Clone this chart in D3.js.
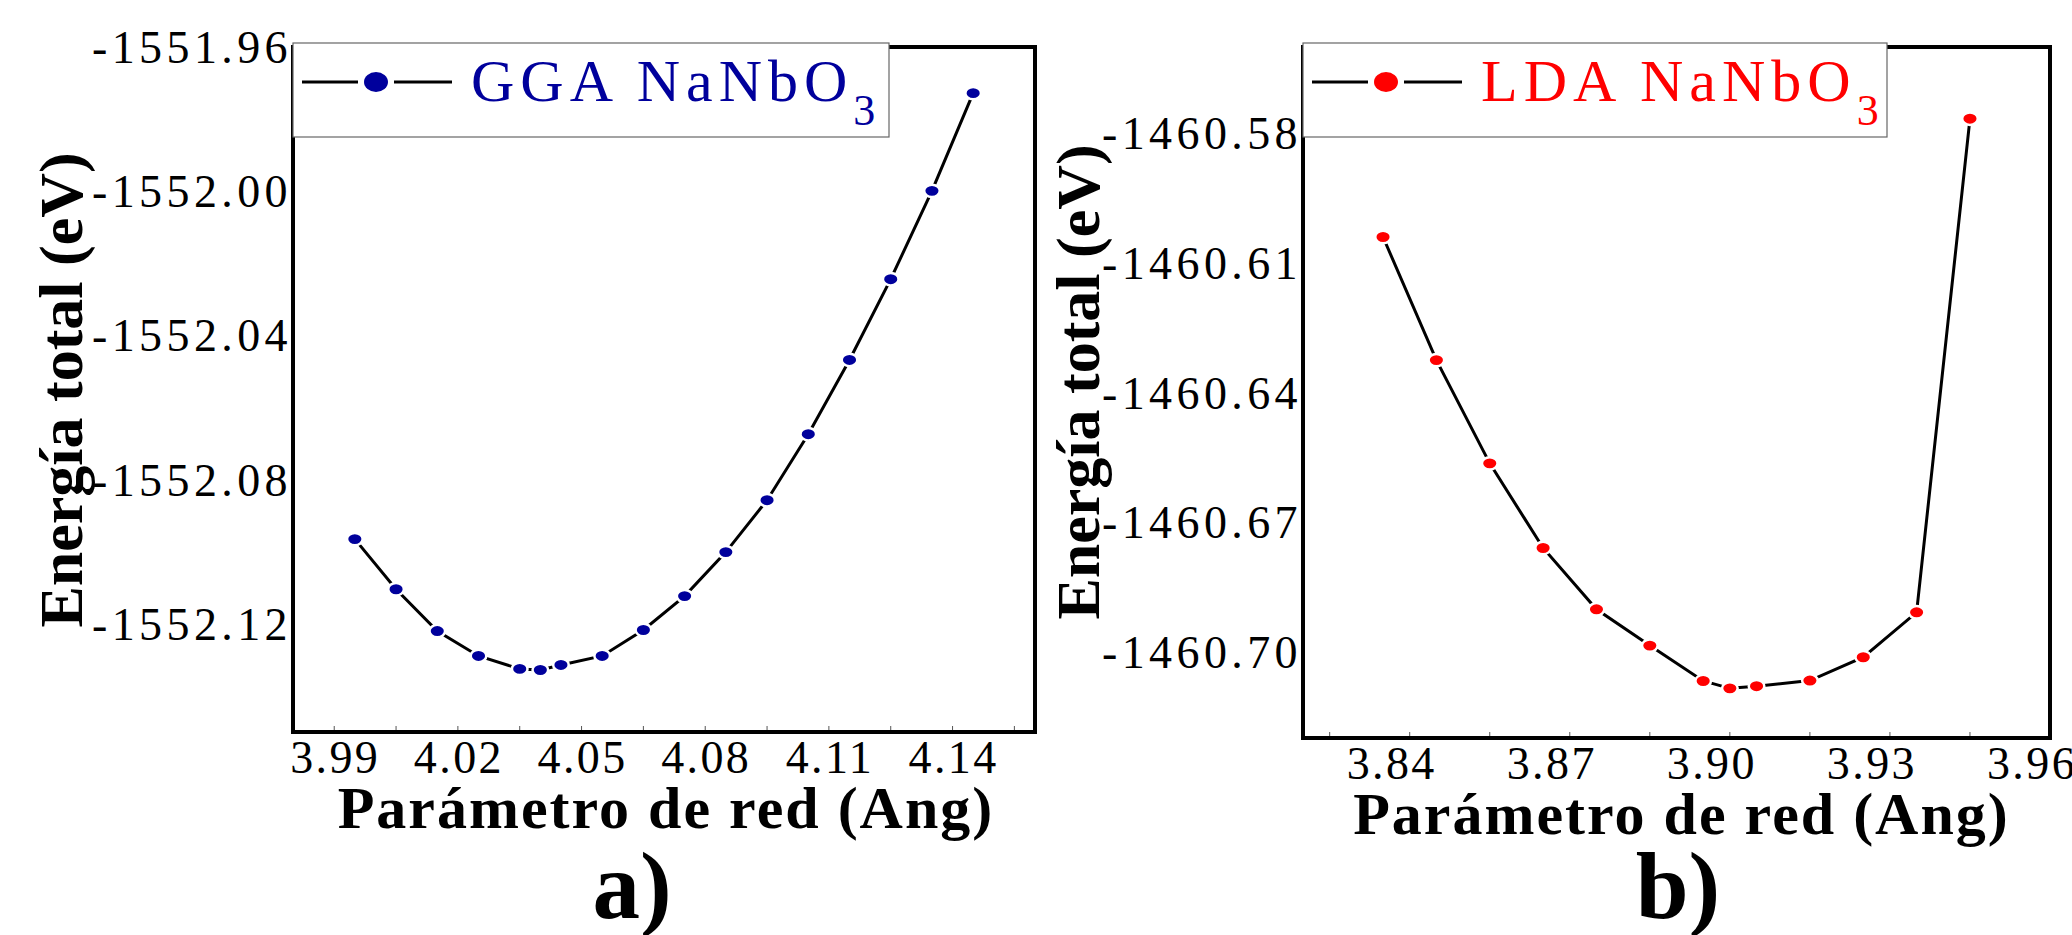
<!DOCTYPE html>
<html>
<head>
<meta charset="utf-8">
<script src="https://cdn.jsdelivr.net/npm/d3@7"></script>
<style>
  body { margin: 0; background: #fff; }
</style>
</head>
<body>
<svg id="chart" width="2072" height="935"></svg>
<script>
// data
var ggaLattice = [3.995, 4.005, 4.015, 4.025, 4.035, 4.040, 4.045, 4.055, 4.065,
                  4.075, 4.085, 4.095, 4.105, 4.115, 4.125, 4.135, 4.145];
var ggaEnergy = [-1552.0965, -1552.1104, -1552.1220, -1552.1289, -1552.1325, -1552.1328,
                 -1552.1314, -1552.1289, -1552.1217, -1552.1123, -1552.1001, -1552.0857,
                 -1552.0674, -1552.0468, -1552.0244, -1551.9999, -1551.9728];

var ldaLattice = [3.835, 3.845, 3.855, 3.865, 3.875, 3.885, 3.895, 3.900, 3.905,
                  3.915, 3.925, 3.935, 3.945];
var ldaEnergy = [-1460.6040, -1460.6325, -1460.6564, -1460.6760, -1460.6902, -1460.6986,
                 -1460.7068, -1460.7085, -1460.7080, -1460.7067, -1460.7013, -1460.6909,
                 -1460.5766];

var ggaXTicks = [3.99, 4.02, 4.05, 4.08, 4.11, 4.14];
var ggaYTicks = [-1551.96, -1552.00, -1552.04, -1552.08, -1552.12];
var ldaXTicks = [3.84, 3.87, 3.90, 3.93, 3.96];
var ldaYTicks = [-1460.58, -1460.61, -1460.64, -1460.67, -1460.70];

var svg = d3.select("#chart")
  .style("font-family", "'Liberation Serif', 'Times New Roman', serif");
svg.append("rect").attr("width", 2072).attr("height", 935).attr("fill", "#fff");

// plain hyphen for the minus sign, as in the original
var fmt = function(d) { return d.toFixed(2); };

function drawPanel(p) {
  var x = d3.scaleLinear().domain(p.xDomain).range([p.left, p.right]);
  var y = d3.scaleLinear().domain(p.yDomain).range([p.bottom, p.top]);
  var g = svg.append("g");

  // minor inner ticks along the bottom, every 0.015
  var minor = d3.range(Math.ceil(p.xDomain[0] / 0.015), Math.floor(p.xDomain[1] / 0.015) + 1)
    .map(function(k) { return k * 0.015; });
  g.selectAll(".minor").data(minor).enter().append("line")
    .attr("x1", d => x(d)).attr("x2", d => x(d))
    .attr("y1", p.bottom).attr("y2", p.bottom - 6)
    .attr("stroke", "#555").attr("stroke-width", 1);

  // data line + markers
  var pts = p.xs.map(function(d, i) { return [d, p.ys[i]]; });
  g.append("path")
    .datum(pts)
    .attr("fill", "none")
    .attr("stroke", "#000")
    .attr("stroke-width", 3)
    .attr("d", d3.line().x(d => x(d[0])).y(d => y(d[1])));
  g.selectAll(".pt").data(pts).enter().append("ellipse")
    .attr("cx", d => x(d[0])).attr("cy", d => y(d[1]))
    .attr("rx", 7.8).attr("ry", 6.2)
    .attr("fill", p.color)
    .attr("stroke", "#fff").attr("stroke-width", 2.5);

  // frame
  g.append("rect")
    .attr("x", p.left).attr("y", p.top)
    .attr("width", p.right - p.left).attr("height", p.bottom - p.top)
    .attr("fill", "none").attr("stroke", "#000").attr("stroke-width", 4);

  // tick labels
  g.selectAll(".xl").data(p.xTicks).enter().append("text")
    .attr("x", d => x(d) + p.xLabelShift + 1).attr("y", p.bottom + 41)
    .attr("text-anchor", "middle")
    .attr("font-size", 46).attr("letter-spacing", 2.4)
    .text(fmt);
  g.selectAll(".yl").data(p.yTicks).enter().append("text")
    .attr("x", p.left - 1).attr("y", d => y(d) + 16)
    .attr("text-anchor", "end")
    .attr("font-size", 46).attr("letter-spacing", 4.4)
    .text(fmt);

  // axis titles
  g.append("text")
    .attr("x", (p.left + p.right) / 2 + p.xTitleShift).attr("y", p.bottom + 96)
    .attr("text-anchor", "middle")
    .attr("font-size", 60).attr("font-weight", "bold").attr("letter-spacing", 2)
    .text("Parámetro de red (Ang)");
  g.append("text")
    .attr("transform", "translate(" + p.yTitleX + "," + p.yTitleY + ") rotate(-90)")
    .attr("text-anchor", "middle")
    .attr("font-size", 62).attr("font-weight", "bold")
    .text("Energía total (eV)");
  g.append("text")
    .attr("x", p.letterX).attr("y", 918)
    .attr("text-anchor", "middle")
    .attr("font-size", 95).attr("font-weight", "bold")
    .text(p.letter);

  // legend
  var lg = g.append("g");
  lg.append("rect")
    .attr("x", p.left).attr("y", p.top - 4)
    .attr("width", p.legendW).attr("height", 94)
    .attr("fill", "#fff").attr("stroke", "#666").attr("stroke-width", 1.2);
  var ly = p.top + 35;
  lg.append("line").attr("x1", p.left + 9).attr("x2", p.left + 65)
    .attr("y1", ly).attr("y2", ly).attr("stroke", "#000").attr("stroke-width", 3);
  lg.append("line").attr("x1", p.left + 101).attr("x2", p.left + 159)
    .attr("y1", ly).attr("y2", ly).attr("stroke", "#000").attr("stroke-width", 3);
  lg.append("ellipse").attr("cx", p.left + 83).attr("cy", ly)
    .attr("rx", 12).attr("ry", 10).attr("fill", p.color);
  var t = lg.append("text")
    .attr("x", p.left + 178).attr("y", ly + 19)
    .attr("font-size", 60).attr("letter-spacing", 6)
    .attr("fill", p.color);
  t.append("tspan").text(p.name + " NaNbO");
  t.append("tspan").attr("font-size", 44).attr("dy", 24).attr("letter-spacing", 0).text("3");
}

drawPanel({
  xs: ggaLattice, ys: ggaEnergy, color: "#00009c", name: "GGA",
  xDomain: [3.98, 4.16], yDomain: [-1552.15, -1551.96],
  left: 293, right: 1035, top: 47, bottom: 732,
  xTicks: ggaXTicks, yTicks: ggaYTicks, xLabelShift: 0, xTitleShift: 2,
  yTitleX: 82, yTitleY: 390, letter: "a)", letterX: 632, legendW: 596
});

drawPanel({
  xs: ldaLattice, ys: ldaEnergy, color: "#ff0000", name: "LDA",
  xDomain: [3.82, 3.96], yDomain: [-1460.72, -1460.56],
  left: 1303, right: 2050, top: 47, bottom: 738,
  xTicks: ldaXTicks, yTicks: ldaYTicks, xLabelShift: -19, xTitleShift: 5,
  yTitleX: 1099, yTitleY: 382, letter: "b)", letterX: 1678, legendW: 584
});
</script>
</body>
</html>
